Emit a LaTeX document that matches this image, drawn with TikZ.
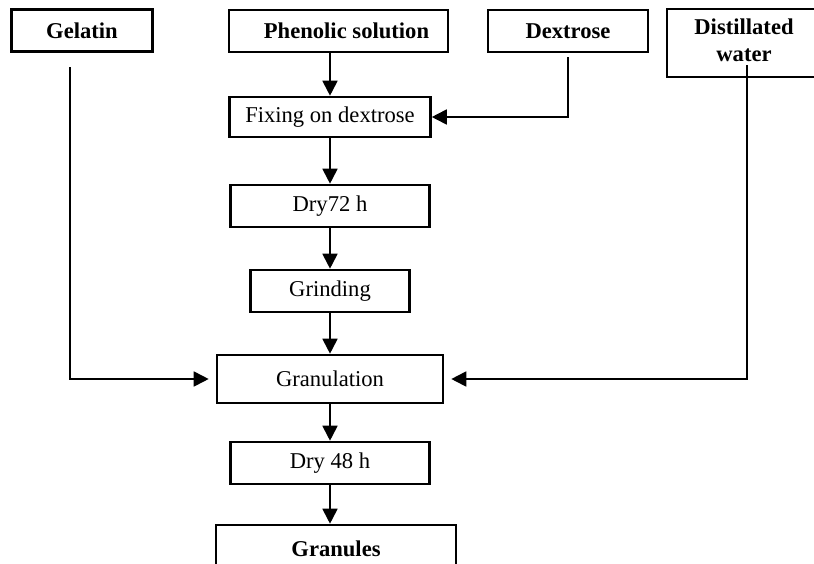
\documentclass[tikz,border=0pt]{standalone}
\usepackage{fontspec}
\setmainfont{Liberation Serif}
\usetikzlibrary{arrows.meta}
\begin{document}
\begin{tikzpicture}[x=0.5pt,y=-0.5pt,
  box/.style={draw,line width=1.3pt,rectangle,inner sep=0pt,font=\fontsize{11.3}{13.5}\selectfont},
  bbox/.style={box,font=\fontsize{11.3}{13.5}\selectfont\bfseries},
  conn/.style={line width=0.9pt,-{Triangle[length=7.5pt,width=7.5pt]}},
  plain/.style={line width=0.9pt}]
\useasboundingbox (0,0) rectangle (814,563);
\node[bbox,minimum width=70.5pt,minimum height=21pt] (gel) at (82,30.5) {\raisebox{-1pt}{Gelatin}};
\node[bbox,minimum width=109.5pt,minimum height=21pt] (phen) at (338.5,31) {\hspace*{8pt}\raisebox{-1pt}{Phenolic solution}};
\node[bbox,minimum width=80pt,minimum height=21pt] (dex) at (568,31) {Dextrose};
\node[bbox,minimum width=77pt,minimum height=34pt,align=center] (dw) at (744,43) {\raisebox{2pt}{\begin{tabular}{@{}c@{}}Distillated\\ water\end{tabular}}};
\node[box,minimum width=100.5pt,minimum height=20pt] (fix) at (330,117) {Fixing on dextrose};
\node[box,minimum width=99.5pt,minimum height=21pt] (dry1) at (330,206) {Dry72 h};
\node[box,minimum width=79.5pt,minimum height=21pt] (grind) at (330,291) {\raisebox{-2pt}{Grinding}};
\node[box,minimum width=113pt,minimum height=24pt] (gran) at (330,379) {Granulation};
\node[box,minimum width=99.5pt,minimum height=21pt] (dry2) at (330,463) {\raisebox{-1.5pt}{Dry 48 h}};
\node[bbox,minimum width=120pt,minimum height=24pt] (granules) at (336,549) {Granules};
\coordinate (gelstart) at (70,67);
\coordinate (dwstart) at (747,65);
\coordinate (dexstart) at (568,57);
% main chain
\draw[conn] (phen.south -| fix.north) -- (fix.north);
\draw[conn] (fix.south) -- (dry1.north);
\draw[conn] (dry1.south) -- (grind.north);
\draw[conn] (grind.south) -- (gran.north);
\draw[conn] (gran.south) -- (dry2.north);
\draw[conn] (dry2.south) -- (granules.north -| dry2.south);
% side inputs
\draw[conn] (dexstart) |- (fix.east);
\draw[conn,shorten >=3.5pt] (gelstart) |- (gran.west);
\draw[conn,shorten >=3.5pt] (dwstart) |- (gran.east);
\end{tikzpicture}
\end{document}
